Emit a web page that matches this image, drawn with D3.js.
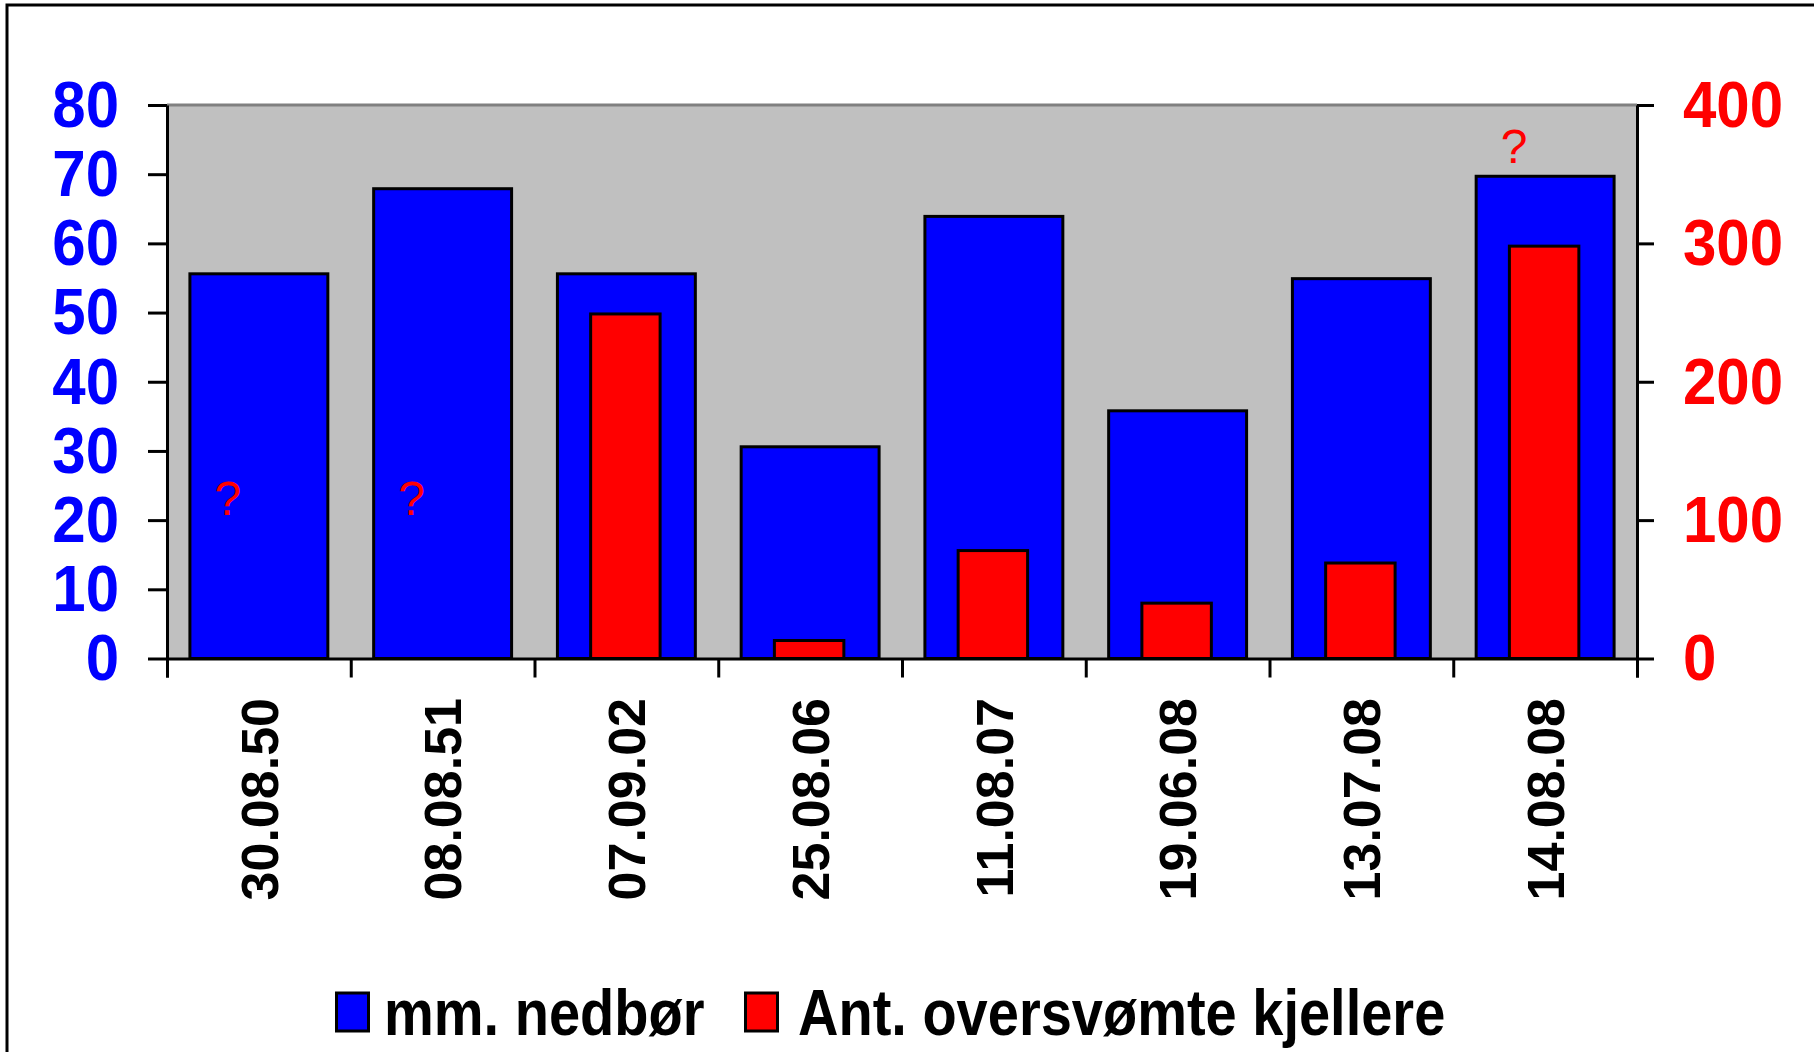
<html>
<head>
<meta charset="utf-8">
<script src="https://d3js.org/d3.v7.min.js"></script>
<style>
  body { margin: 0; background: #fff; }
  text { font-family: "Liberation Sans", Arial, sans-serif; }
</style>
</head>
<body>
<script>
// data
var dates = ["30.08.50", "08.08.51", "07.09.02", "25.08.06", "11.08.07", "19.06.08", "13.07.08", "14.08.08"];
var rainMm = [55.6, 67.9, 55.6, 30.6, 63.9, 35.8, 54.9, 69.7];
var floodedCellars = [null, null, 249, 13, 78, 40, 69, 298];
var leftTicks = [0, 10, 20, 30, 40, 50, 60, 70, 80];
var rightTicks = [0, 100, 200, 300, 400];
var unknownMarks = [
  {date: "30.08.50", at: 20.7},
  {date: "08.08.51", at: 20.7},
  {date: "14.08.08", at: 71.6}
];
var legendNames = ["mm. nedbør", "Ant. oversvømte kjellere"];
var legendColors = ["#0000ff", "#ff0000"];

var W = 1814, H = 1052;
var plot = {left: 167, right: 1637, top: 105, bottom: 658.5};

var svg = d3.select("body").append("svg")
    .attr("width", W)
    .attr("height", H);

// outer chart frame (runs off the bottom/right)
svg.append("rect")
    .attr("x", 7).attr("y", 5)
    .attr("width", W + 20).attr("height", H + 20)
    .attr("fill", "#fff")
    .attr("stroke", "#000")
    .attr("stroke-width", 3);

// plot background
svg.append("rect")
    .attr("x", plot.left).attr("y", plot.top)
    .attr("width", plot.right - plot.left)
    .attr("height", plot.bottom - plot.top)
    .attr("fill", "#c0c0c0");
svg.append("line")
    .attr("x1", plot.left).attr("x2", plot.right)
    .attr("y1", plot.top).attr("y2", plot.top)
    .attr("stroke", "#808080").attr("stroke-width", 3);

var x = d3.scaleBand()
    .domain(dates)
    .range([plot.left, plot.right])
    .paddingInner(0.233)
    .paddingOuter(0.1165);

var yL = d3.scaleLinear().domain([0, 80]).range([plot.bottom, plot.top]);
var yR = d3.scaleLinear().domain([0, 400]).range([plot.bottom, plot.top]);

// blue bars
svg.append("g").selectAll("rect")
    .data(dates).enter()
    .append("rect")
    .attr("x", d => x(d) + 1.5)
    .attr("width", x.bandwidth() - 3)
    .attr("y", (d, i) => yL(rainMm[i]))
    .attr("height", (d, i) => yL(0) - yL(rainMm[i]))
    .attr("fill", "#0000ff")
    .attr("stroke", "#000")
    .attr("stroke-width", 3);

// red bars (secondary axis), half width
var redW = x.bandwidth() / 2 + 2;
svg.append("g").selectAll("rect")
    .data(dates.filter((d, i) => floodedCellars[i] != null)).enter()
    .append("rect")
    .attr("x", d => x(d) + x.bandwidth() / 2 - redW / 2 - 1 + 1.5)
    .attr("width", redW - 3)
    .attr("y", d => yR(floodedCellars[dates.indexOf(d)]))
    .attr("height", d => yR(0) - yR(floodedCellars[dates.indexOf(d)]))
    .attr("fill", "#ff0000")
    .attr("stroke", "#000")
    .attr("stroke-width", 3);

// question marks for unknown counts
svg.append("g").selectAll("text")
    .data(unknownMarks).enter()
    .append("text")
    .attr("x", d => x(d.date) + x.bandwidth() / 2 - 31)
    .attr("y", d => yL(d.at))
    .attr("text-anchor", "middle")
    .attr("fill", "#ff0000")
    .attr("font-size", 48)
    .text("?");

// left axis
var gL = svg.append("g")
    .attr("transform", "translate(" + plot.left + ",0)")
    .call(d3.axisLeft(yL).tickValues(leftTicks).tickSize(19).tickPadding(29).tickSizeOuter(0));
gL.select(".domain").attr("stroke-width", 3);
gL.selectAll(".tick line").attr("stroke-width", 3);
gL.selectAll(".tick text")
    .attr("fill", "#0000ff")
    .attr("font-size", 60)
    .attr("font-weight", "bold")
    .attr("font-family", "Liberation Sans, Arial, sans-serif")
    .attr("dy", "0.33em")
    .attr("transform", "scale(1,1.08)");

// right axis
var gR = svg.append("g")
    .attr("transform", "translate(" + plot.right + ",0)")
    .call(d3.axisRight(yR).tickValues(rightTicks).tickSize(17).tickPadding(29).tickSizeOuter(0));
gR.select(".domain").attr("stroke-width", 3);
gR.selectAll(".tick line").attr("stroke-width", 3);
gR.selectAll(".tick text")
    .attr("fill", "#ff0000")
    .attr("font-size", 60)
    .attr("font-weight", "bold")
    .attr("font-family", "Liberation Sans, Arial, sans-serif")
    .attr("dy", "0.33em")
    .attr("transform", "scale(1,1.08)");

// bottom axis: ticks between categories
var xEdges = d3.scaleLinear().domain([0, dates.length]).range([plot.left, plot.right]);
var gB = svg.append("g")
    .attr("transform", "translate(0," + plot.bottom + ")")
    .call(d3.axisBottom(xEdges).tickValues(d3.range(dates.length + 1)).tickSize(19).tickFormat(""));
gB.select(".domain").attr("stroke-width", 3);
gB.selectAll(".tick line").attr("stroke-width", 3);

// rotated date labels
svg.append("g").selectAll("text")
    .data(dates).enter()
    .append("text")
    .attr("transform", d => "translate(" + (x(d) + x.bandwidth() / 2) + ",698) rotate(-90)")
    .attr("text-anchor", "end")
    .attr("dy", "0.36em")
    .attr("font-size", 52)
    .attr("font-weight", "bold")
    .attr("fill", "#000")
    .text(d => d);

// legend
var legendX = [336.5, 745.5], textX = [384, 798];
var lg = svg.append("g");
legendNames.forEach(function(name, i) {
  lg.append("rect")
    .attr("x", legendX[i]).attr("y", 993)
    .attr("width", 32).attr("height", 38)
    .attr("fill", legendColors[i])
    .attr("stroke", "#000")
    .attr("stroke-width", 3);
  lg.append("text")
    .attr("transform", "translate(" + textX[i] + ",1035) scale(1,1.17)")
    .attr("font-size", 56)
    .attr("font-weight", "bold")
    .attr("fill", "#000")
    .text(name);
});
</script>
</body>
</html>
